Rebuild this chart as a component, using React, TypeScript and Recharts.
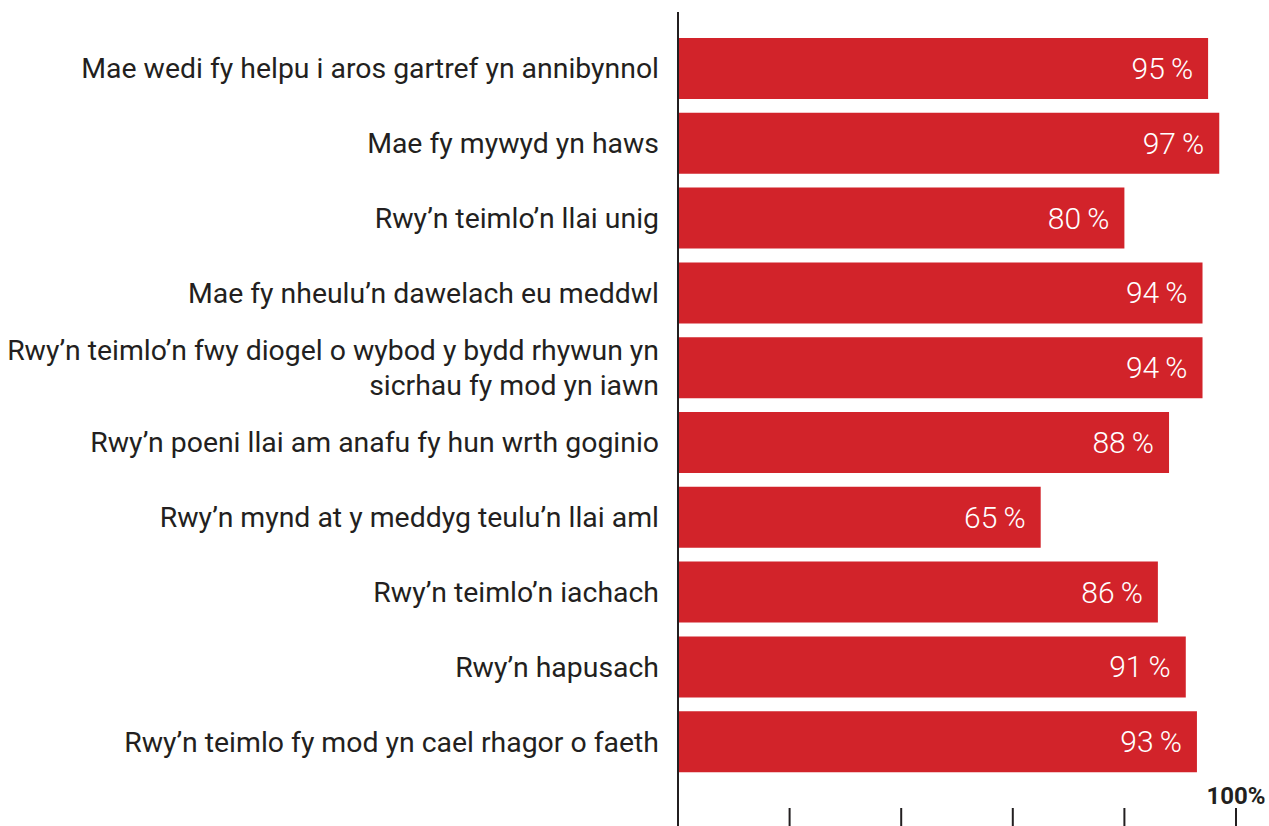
import { BarChart, Bar, XAxis, YAxis, LabelList } from 'recharts';

const categories = [
  'Mae wedi fy helpu i aros gartref yn annibynnol',
  'Mae fy mywyd yn haws',
  'Rwy’n teimlo’n llai unig',
  'Mae fy nheulu’n dawelach eu meddwl',
  'Rwy’n teimlo’n fwy diogel o wybod y bydd rhywun yn\nsicrhau fy mod yn iawn',
  'Rwy’n poeni llai am anafu fy hun wrth goginio',
  'Rwy’n mynd at y meddyg teulu’n llai aml',
  'Rwy’n teimlo’n iachach',
  'Rwy’n hapusach',
  'Rwy’n teimlo fy mod yn cael rhagor o faeth',
];

const percentages = [95, 97, 80, 94, 94, 88, 65, 86, 91, 93];

const xTicks = [0, 20, 40, 60, 80, 100];

const data = categories.map((label, i) => ({
  label,
  value: percentages[i],
}));

const FONT = 'Roboto, "Noto Sans", sans-serif';
const RED = '#d2232a';
const INK = '#231f20';

const CategoryTick = (props: any) => {
  const { x, y, payload } = props;
  const lines = String(payload.value).split('\n');
  const lineHeight = 35;
  const startY = y - ((lines.length - 1) * lineHeight) / 2;
  return (
    <text
      x={x}
      y={startY}
      textAnchor="end"
      dominantBaseline="central"
      fill={INK}
      fontFamily={FONT}
      fontSize={28.4}
    >
      {lines.map((line, i) => (
        <tspan key={i} x={x} y={startY + i * lineHeight}>
          {line}
        </tspan>
      ))}
    </text>
  );
};

const PercentTick = (props: any) => {
  const { x, y, payload } = props;
  if (payload.value !== 100) return null;
  return (
    <text
      x={x}
      y={y}
      textAnchor="middle"
      dominantBaseline="central"
      fill={INK}
      fontFamily={FONT}
      fontSize={24}
      fontWeight="bold"
    >
      100%
    </text>
  );
};

const ValueLabel = (props: any) => {
  const { x, y, width, height, value } = props;
  return (
    <text
      x={x + width - 15}
      y={y + height / 2}
      textAnchor="end"
      dominantBaseline="central"
      fill="#ffffff"
      fontFamily={FONT}
      fontSize={30}
      fontWeight={300}
    >
      {`${value}\u2009%`}
    </text>
  );
};

const App = () => {
  return (
    <div style={{ position: 'absolute', left: 0, top: 0 }}>
      <BarChart
        width={1269}
        height={826}
        data={data}
        layout="vertical"
        margin={{ top: 12, right: 33, left: 0, bottom: 0 }}
      >
        <XAxis
          type="number"
          domain={[0, 100]}
          ticks={xTicks}
          mirror
          axisLine={false}
          tickSize={18}
          tickMargin={12}
          tickLine={{ stroke: INK, strokeWidth: 2 }}
          tick={<PercentTick />}
          interval={0}
        />
        <YAxis
          type="category"
          dataKey="label"
          width={678}
          padding={{ top: 19, bottom: 47 }}
          axisLine={{ stroke: INK, strokeWidth: 2 }}
          tickLine={false}
          tickSize={0}
          tickMargin={19}
          tick={<CategoryTick />}
          interval={0}
        />
        <Bar dataKey="value" fill={RED} barSize={61} isAnimationActive={false}>
          <LabelList dataKey="value" content={<ValueLabel />} />
        </Bar>
      </BarChart>
    </div>
  );
};

export default App;
